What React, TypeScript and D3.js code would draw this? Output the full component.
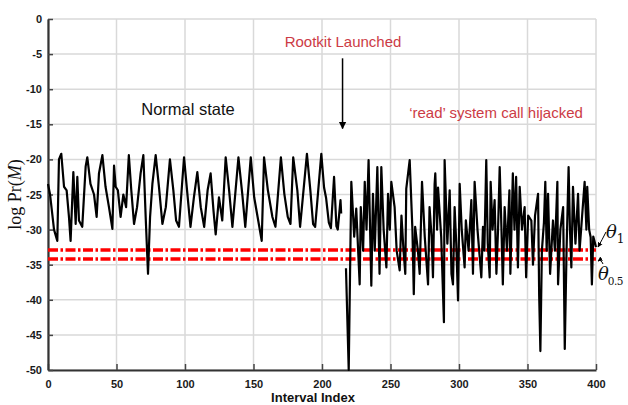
import React, { useEffect, useRef } from "react";
import * as d3 from "d3";

// normal state trace (interval index / log probability)
const normalIdx = [
  0, 1.5, 4.4, 6.8, 8, 9.7, 11.7, 13.6, 15.3, 16.5, 18.5, 20.2, 21.4, 22.6, 25,
  27.5, 28.7, 31, 33.6, 35.5, 37.2, 39.7, 42, 44.5, 47, 48.2, 49.4, 51, 53, 55,
  57, 59, 60.8, 62.8, 65, 67.6, 69.6, 71.3, 73, 74.5, 76.2, 78.6, 81, 83.5, 86,
  89, 91.5, 93.5, 95.6, 99.3, 101.5, 104, 106.5, 109, 111.5, 114, 116.5, 118.7,
  120.8, 122.4, 124.8, 127.2, 129.7, 132.2, 134.6, 139, 141.8, 144, 148, 150.5,
  153, 156, 157.7, 160.5, 163.8, 166, 170, 172.5, 175, 177, 179, 182, 184, 189,
  191.5, 193.5, 195, 199.5, 201.5, 203, 205, 206.5, 208.8, 210.5, 211.5, 213.5,
  214,
];
const normalVal = [
  -23.5, -25, -30, -31.6, -20, -19.2, -23.9, -24.4, -28.2, -31.6, -21.8, -29.2,
  -22.5, -28.7, -29.6, -21, -19.7, -23.5, -25, -28.2, -22, -19.4, -23.9, -26.8,
  -29.9, -20.9, -23.9, -24.4, -28.2, -25, -26.8, -19.4, -24.4, -29.2, -26.8, -22,
  -19.4, -28.2, -36.3, -28.2, -23.5, -19.4, -23.9, -29.2, -26.8, -20, -24.4,
  -28.7, -29.6, -19.7, -24.4, -29.6, -25.4, -21.8, -26.8, -29.6, -24.4, -22,
  -27.3, -30.7, -25.4, -28.7, -19.7, -24.4, -29.6, -19.7, -24.9, -29.6, -19.7,
  -25.4, -28.2, -31.6, -19.7, -24.4, -28.2, -29.6, -19.7, -24.9, -28.2, -29.2,
  -19.7, -24.4, -29.6, -19.2, -24.4, -29.2, -29.6, -19.2, -24, -25.5, -29, -29.8,
  -22.5, -29.5, -30, -25.8, -27.7,
];

// after the rootkit is launched
const attackIdx = [
  217.5, 219.5, 221.4, 223.5, 225, 227.5, 228.3, 230, 231.2, 232.5, 234, 236,
  237.2, 238.5, 240.4, 242, 243.3, 245, 247, 248.2, 249.5, 250.6, 253, 254.5,
  256.7, 258, 259.5, 260.8, 261.5, 264, 266, 267, 268, 270, 271.3, 273, 275,
  277.4, 278.5, 280, 281, 282.2, 282.7, 284, 284.7, 287, 289, 289.5, 291.5,
  293.2, 294.5, 295.6, 296.8, 298, 299.3, 300.5, 302, 304.1, 305, 307, 309,
  310.2, 311.4, 313.5, 316.3, 317.5, 318.5, 319.9, 321, 322.4, 323.1, 324.5, 326,
  327.3, 328.5, 329.7, 331, 332, 333.3, 335, 336.8, 337.5, 339.3, 340.5, 341.7,
  343, 344.3, 346, 347.9, 349, 350.5, 352.8, 354, 355.5, 357.7, 358.5, 359.4,
  360.5, 362, 363, 364, 365, 366.5, 368.6, 370, 371.8, 372.3, 374, 376, 377.2,
  378.5, 380, 381, 382, 383.2, 385, 386.9, 388, 389.5, 391.7, 393, 393.6, 395,
  396.1, 397, 398, 400,
];
const attackVal = [
  -35.5, -50, -23.2, -31, -27, -37.8, -26.8, -33, -23.2, -30, -20.1, -38,
  -24.9, -33, -21.1, -36.3, -21.1, -30, -35.4, -24.9, -30, -23.2, -26.8, -33,
  -35.8, -28, -33, -36.3, -24.2, -20.1, -30, -39.2, -29.6, -33, -36.3, -23.2,
  -31, -37.8, -26.8, -31, -36.8, -23.5, -22, -30, -24, -31, -43.2, -20.1, -32,
  -24.4, -36.3, -37.8, -26.8, -32, -40.1, -23.5, -30, -35.4, -28.7, -33, -25.8,
  -36.3, -23.2, -30, -36.8, -29.6, -33, -20.1, -32, -36.8, -23.2, -30, -25.8,
  -36.3, -30, -21.1, -30, -37.8, -26.8, -33, -24.4, -36.3, -22, -30, -22.5,
  -35.4, -23.9, -30, -26.8, -36.8, -28, -28.7, -35, -28, -24.9, -39.2, -47.3,
  -33, -29, -23.2, -33, -24.9, -36.3, -28.7, -33, -23.2, -37.8, -30, -26.8, -47,
  -33, -21.1, -30, -35.4, -23.9, -32, -24.9, -33, -29, -23.2, -30, -23.9, -30,
  -31.1, -37.8, -31, -32.5,
];

const thresholds = [-32.9, -34.2];
const xTicks = [0, 50, 100, 150, 200, 250, 300, 350, 400];
const yTicks = [0, -5, -10, -15, -20, -25, -30, -35, -40, -45, -50];

const W = 628;
const H = 405;
const margin = { top: 19, right: 32, bottom: 35, left: 48 };

export default function App() {
  const ref = useRef<SVGSVGElement>(null);

  useEffect(() => {
    const svg = d3.select(ref.current);
    svg.selectAll("*").remove();

    const x = d3
      .scaleLinear()
      .domain([0, 400])
      .range([margin.left, W - margin.right]);
    const y = d3
      .scaleLinear()
      .domain([-50, 0])
      .range([H - margin.bottom, margin.top]);

    // grid
    const grid = svg.append("g").attr("stroke", "#d9d9d9").attr("stroke-width", 1.5);
    grid
      .selectAll(".gx")
      .data(xTicks)
      .join("line")
      .attr("x1", (d) => x(d))
      .attr("x2", (d) => x(d))
      .attr("y1", y(0))
      .attr("y2", y(-50));
    grid
      .selectAll(".gy")
      .data(yTicks)
      .join("line")
      .attr("x1", x(0))
      .attr("x2", x(400))
      .attr("y1", (d) => y(d))
      .attr("y2", (d) => y(d));

    // axes
    const xAxis = svg
      .append("g")
      .attr("transform", `translate(0,${y(-50)})`)
      .call(d3.axisBottom(x).tickValues(xTicks).tickSizeInner(-6).tickSizeOuter(0).tickPadding(10));
    const yAxis = svg
      .append("g")
      .attr("transform", `translate(${x(0)},0)`)
      .call(d3.axisLeft(y).tickValues(yTicks).tickSizeInner(-5).tickSizeOuter(0).tickPadding(6));
    [xAxis, yAxis].forEach((g) => {
      g.select(".domain").attr("stroke", "#333").attr("stroke-width", 2.2);
      g.selectAll(".tick line").attr("stroke", "#444").attr("stroke-width", 1.5);
      g.selectAll("text")
        .attr("fill", "#1a1a1a")
        .style("font-family", "Liberation Sans, Arial, sans-serif")
        .style("font-size", "11px")
        .style("font-weight", "bold");
    });
    yAxis.selectAll("text").text((d: any) => (d === 0 ? "0" : String(d)));

    // thresholds
    svg
      .append("g")
      .selectAll("line")
      .data(thresholds)
      .join("line")
      .attr("x1", x(0))
      .attr("x2", x(400))
      .attr("y1", (d) => y(d))
      .attr("y2", (d) => y(d))
      .attr("stroke", "#ff0000")
      .attr("stroke-width", 3.5)
      .attr("stroke-dasharray", "10,2.5,2.5,2.5");

    // signal
    const line = d3
      .line<[number, number]>()
      .x((d) => x(d[0]))
      .y((d) => y(d[1]));
    const segs = [
      normalIdx.map((v, i) => [v, normalVal[i]] as [number, number]),
      attackIdx.map((v, i) => [v, attackVal[i]] as [number, number]),
    ];
    svg
      .append("g")
      .selectAll("path")
      .data(segs)
      .join("path")
      .attr("d", (d) => line(d))
      .attr("fill", "none")
      .attr("stroke", "#000")
      .attr("stroke-width", 2.2)
      .attr("stroke-linejoin", "round");

    // annotations
    const sans = "Liberation Sans, Arial, sans-serif";
    svg
      .append("text")
      .attr("x", 343)
      .attr("y", 47)
      .attr("text-anchor", "middle")
      .attr("fill", "#cc3b45")
      .style("font-family", sans)
      .style("font-size", "15px")
      .text("Rootkit Launched");
    svg
      .append("defs")
      .append("marker")
      .attr("id", "ah")
      .attr("viewBox", "0 0 10 10")
      .attr("refX", 9)
      .attr("refY", 5)
      .attr("markerWidth", 5)
      .attr("markerHeight", 6)
      .attr("orient", "auto")
      .append("path")
      .attr("d", "M0,0L10,5L0,10z")
      .attr("fill", "#000");
    svg
      .append("line")
      .attr("x1", x(215))
      .attr("x2", x(215))
      .attr("y1", y(-5.6))
      .attr("y2", y(-15.6))
      .attr("stroke", "#000")
      .attr("stroke-width", 1.5)
      .attr("marker-end", "url(#ah)");
    svg
      .append("text")
      .attr("x", 188)
      .attr("y", 115)
      .attr("text-anchor", "middle")
      .attr("fill", "#111")
      .style("font-family", sans)
      .style("font-size", "16.5px")
      .text("Normal state");
    svg
      .append("text")
      .attr("x", 496)
      .attr("y", 118)
      .attr("text-anchor", "middle")
      .attr("fill", "#cc3b45")
      .style("font-family", sans)
      .style("font-size", "15px")
      .text("\u2018read\u2019 system call hijacked");

    // theta labels
    const serif = "DejaVu Serif, Liberation Serif, serif";
    const t1 = svg
      .append("text")
      .attr("x", 606)
      .attr("y", 238)
      .attr("fill", "#111")
      .style("font-family", serif)
      .style("font-style", "italic")
      .style("font-size", "18px");
    t1.append("tspan").text("\u03b8");
    t1.append("tspan").attr("dy", 5).style("font-size", "12px").style("font-style", "normal").text("1");
    const t2 = svg
      .append("text")
      .attr("x", 598)
      .attr("y", 280)
      .attr("fill", "#111")
      .style("font-family", serif)
      .style("font-style", "italic")
      .style("font-size", "18px");
    t2.append("tspan").text("\u03b8");
    t2.append("tspan")
      .attr("dy", 5)
      .attr("dx", -1)
      .style("font-size", "10.5px")
      .style("font-style", "normal")
      .style("letter-spacing", "-0.5px")
      .text("0.5");
    svg
      .append("path")
      .attr("d", `M606,232 Q602,240 ${x(400) + 2},${y(thresholds[0]) - 3}`)
      .attr("fill", "none")
      .attr("stroke", "#000")
      .attr("stroke-width", 1)
      .attr("marker-end", "url(#ah)");
    svg
      .append("path")
      .attr("d", `M603,264 Q601,259 ${x(400) + 2},${y(thresholds[1]) + 2}`)
      .attr("fill", "none")
      .attr("stroke", "#000")
      .attr("stroke-width", 1)
      .attr("marker-end", "url(#ah)");

    // axis titles
    svg
      .append("text")
      .attr("x", 313)
      .attr("y", 402)
      .attr("text-anchor", "middle")
      .attr("fill", "#111")
      .style("font-family", sans)
      .style("font-size", "13px")
      .style("font-weight", "bold")
      .text("Interval Index");
    const yl = svg
      .append("text")
      .attr("transform", `translate(21,${(y(0) + y(-50)) / 2}) rotate(-90)`)
      .attr("text-anchor", "middle")
      .attr("fill", "#111")
      .style("font-family", "Liberation Serif, Times New Roman, serif")
      .style("font-size", "18px");
    yl.append("tspan").text("log Pr(");
    yl.append("tspan").style("font-style", "italic").text("M");
    yl.append("tspan").text(")");
  }, []);

  return (
    <svg
      ref={ref}
      width={W}
      height={H}
      style={{ position: "absolute", left: 0, top: 0, background: "#fff" }}
    />
  );
}
